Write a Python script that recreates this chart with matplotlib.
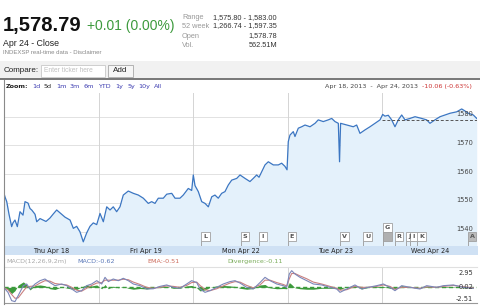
import matplotlib
matplotlib.use("Agg")
import matplotlib.pyplot as plt
from matplotlib.patches import Rectangle
from matplotlib.lines import Line2D

# ---- data ----
# time in trading days since Apr 18 open (0..5)
price_t = [0.0, 0.011, 0.029, 0.053, 0.081, 0.095, 0.116, 0.141, 0.169, 0.201,
           0.222, 0.254, 0.275, 0.293, 0.328, 0.346, 0.381, 0.412, 0.444, 0.486,
           0.518, 0.557, 0.592, 0.645, 0.698, 0.733, 0.768, 0.803, 0.838, 0.874,
           0.909, 0.944, 0.980, 1.015, 1.050, 1.086, 1.121, 1.155, 1.191, 1.226,
           1.261, 1.314, 1.367, 1.420, 1.473, 1.525, 1.561, 1.596, 1.631, 1.684,
           1.720, 1.773, 1.808, 1.860, 1.895, 1.948, 1.984, 2.001, 2.019, 2.054,
           2.090, 2.125, 2.160, 2.196, 2.230, 2.265, 2.301, 2.336, 2.371, 2.407,
           2.460, 2.495, 2.548, 2.600, 2.635, 2.671, 2.696, 2.724, 2.759, 2.794,
           2.847, 2.900, 2.935, 2.970, 2.992, 3.005, 3.023, 3.058, 3.076, 3.111,
           3.147, 3.182, 3.235, 3.288, 3.322, 3.375, 3.428, 3.464, 3.499, 3.534,
           3.547, 3.558, 3.623, 3.692, 3.728, 3.763, 3.816, 3.869, 3.922, 3.975,
           4.003, 4.027, 4.062, 4.098, 4.133, 4.168, 4.204, 4.239, 4.292, 4.345,
           4.415, 4.468, 4.503, 4.556, 4.609, 4.662, 4.715, 4.785, 4.838, 4.873,
           4.908, 4.961, 4.997]
price = [1553.3, 1552.0, 1550.4, 1546.0, 1541.7, 1543.0, 1544.0, 1541.7, 1546.9, 1545.7,
         1550.4, 1549.9, 1548.0, 1547.5, 1546.0, 1543.4, 1544.5, 1544.0, 1543.5, 1544.7,
         1546.0, 1547.5, 1546.5, 1545.0, 1544.0, 1541.1, 1541.8, 1539.9, 1536.4, 1539.5,
         1541.8, 1543.0, 1542.4, 1546.3, 1543.4, 1548.6, 1547.5, 1548.6, 1546.9, 1548.6,
         1552.7, 1554.1, 1553.3, 1552.7, 1551.6, 1549.8, 1550.4, 1549.8, 1551.6, 1551.6,
         1553.0, 1553.3, 1551.6, 1551.6, 1552.7, 1555.0, 1554.3, 1559.7, 1556.0, 1553.9,
         1550.4, 1549.8, 1548.6, 1552.1, 1552.7, 1551.6, 1553.3, 1553.9, 1556.2, 1557.9,
         1558.5, 1559.7, 1558.5, 1557.4, 1558.5, 1559.7, 1558.9, 1560.8, 1563.2, 1564.3,
         1563.2, 1563.2, 1563.8, 1562.7, 1561.5, 1571.3, 1573.6, 1574.8, 1573.1, 1576.0,
         1576.5, 1577.1, 1576.5, 1577.7, 1578.9, 1578.3, 1578.9, 1579.4, 1578.3, 1577.7,
         1564.3, 1577.7, 1577.1, 1576.5, 1577.1, 1574.2, 1575.4, 1576.5, 1577.7, 1578.9,
         1580.8, 1580.2, 1580.5, 1578.9, 1576.5, 1578.9, 1580.6, 1578.9, 1579.4, 1580.0,
         1579.4, 1578.9, 1577.7, 1578.9, 1580.0, 1580.6, 1581.2, 1581.7, 1582.7, 1582.0,
         1581.2, 1580.6, 1579.4]
prev_close = 1578.78

macd_t = [0.011, 0.042, 0.081, 0.116, 0.151, 0.204, 0.240, 0.275, 0.328, 0.381,
          0.433, 0.486, 0.539, 0.610, 0.663, 0.716, 0.768, 0.821, 0.874, 0.927,
          0.980, 1.033, 1.068, 1.103, 1.155, 1.208, 1.261, 1.314, 1.367, 1.438,
          1.508, 1.578, 1.649, 1.720, 1.790, 1.860, 1.931, 1.984, 2.037, 2.072,
          2.125, 2.178, 2.248, 2.318, 2.389, 2.442, 2.495, 2.566, 2.635, 2.706,
          2.759, 2.812, 2.883, 2.952, 2.988, 3.016, 3.041, 3.076, 3.129, 3.200,
          3.270, 3.358, 3.446, 3.517, 3.552, 3.623, 3.710, 3.781, 3.851, 3.940,
          4.010, 4.080, 4.133, 4.204, 4.292, 4.397, 4.468, 4.574, 4.644, 4.750,
          4.856, 4.961]
macd = [-0.35, -1.05, -2.8, -3.0, -1.7, 0.35, 0.7, -0.35, 0.7, 1.4,
        1.75, 1.0, 0.35, 0.7, 0.35, -0.35, -1.05, -0.7, 0.35, 0.7,
        1.4, 0.7, 2.1, 1.2, 1.75, 1.4, 1.9, 1.4, 0.7, 0.35,
        -0.35, -0.3, 0.2, 0.5, 0.0, -0.2, 0.7, 1.4, 1.0, -0.35,
        -1.05, -0.7, 0.0, 0.7, 1.2, 1.4, 0.9, 0.0, -0.35, 1.0,
        2.1, 1.4, 0.7, 0.35, 0.0, 2.8, 3.5, 2.8, 2.1, 1.4,
        0.7, 0.5, 0.0, -0.35, -1.05, -0.35, 0.5, -0.35, 0.0, 0.35,
        0.7, 0.0, -0.7, 0.35, 0.0, -0.35, 0.35, 0.0, 0.35, 0.5,
        0.0, -0.2]
ema = [-0.2, -0.5, -1.5, -2.3, -2.2, -0.8, 0.1, 0.2, 0.3, 0.9,
       1.4, 1.3, 0.8, 0.6, 0.5, 0.0, -0.6, -0.8, -0.2, 0.4,
       0.9, 1.0, 1.5, 1.5, 1.5, 1.5, 1.7, 1.6, 1.1, 0.6,
       0.0, -0.2, 0.0, 0.3, 0.2, 0.0, 0.4, 1.0, 1.1, 0.4,
       -0.5, -0.7, -0.3, 0.3, 0.9, 1.2, 1.1, 0.4, -0.1, 0.5,
       1.5, 1.5, 1.0, 0.6, 0.3, 1.8, 2.9, 2.9, 2.4, 1.8,
       1.1, 0.7, 0.2, -0.2, -0.6, -0.5, 0.2, 0.0, 0.0, 0.2,
       0.5, 0.2, -0.4, 0.0, 0.0, -0.2, 0.1, 0.0, 0.2, 0.4,
       0.1, -0.1]
divergence = [-0.15, -0.55, -1.3, -0.7, 0.5, 1.15, 0.6, -0.55, 0.4, 0.5,
              0.35, -0.3, -0.45, 0.1, -0.15, -0.35, -0.45, 0.1, 0.55, 0.3,
              0.5, -0.3, 0.6, -0.3, 0.25, -0.1, 0.2, -0.2, -0.4, -0.25,
              -0.35, -0.1, 0.2, 0.2, -0.2, -0.2, 0.3, 0.4, -0.1, -0.75,
              -0.55, 0.0, 0.3, 0.4, 0.3, 0.2, -0.2, -0.4, -0.25, 0.5,
              0.6, -0.1, -0.3, -0.25, -0.3, 1.0, 0.6, -0.1, -0.3, -0.4,
              -0.4, -0.2, -0.2, -0.15, -0.45, 0.15, 0.3, -0.35, 0.0, 0.15,
              0.2, -0.2, -0.3, 0.35, 0.0, -0.15, 0.25, 0.0, 0.15, 0.1,
              -0.1, -0.1]

day_labels = ["Thu Apr 18", "Fri Apr 19", "Mon Apr 22", "Tue Apr 23", "Wed Apr 24"]
price_ticks = [1540, 1550, 1560, 1570, 1580]
macd_ticks = [2.95, 0.02, -2.51]

flag_labels = ["L", "S", "I", "E", "V", "U", "G", "R", "J", "I", "K", "A"]
flag_t = [2.130, 2.548, 2.738, 3.044, 3.601, 3.843, 4.054, 4.175, 4.290, 4.334, 4.413, 4.947]
flag_level = [0, 0, 0, 0, 0, 0, 1, 0, 0, 0, 0, 0]

stats_names = ["Range", "52 week", "Open", "Vol."]
stats_values = ["1,575.80 - 1,583.00", "1,266.74 - 1,597.35", "1,578.78", "562.51M"]
zoom_links = ["1d", "5d", "1m", "3m", "6m", "YTD", "1y", "5y", "10y", "All"]

# ---- figure ----
W, H = 480, 306
fig = plt.figure(figsize=(W / 100, H / 100), dpi=100)
fig.patch.set_facecolor("white")


def fx(x):
    return x / W


def fy(y):
    return 1 - y / H


def ftext(x, y, s, **kw):
    kw.setdefault("va", "center")
    kw.setdefault("family", "DejaVu Sans")
    fig.text(fx(x), fy(y), s, **kw)


def frect(x0, y0, x1, y1, **kw):
    fig.add_artist(Rectangle((fx(x0), fy(y1)), fx(x1) - fx(x0), fy(y0) - fy(y1),
                             transform=fig.transFigure, **kw))


def fline(x0, y0, x1, y1, **kw):
    fig.add_artist(Line2D([fx(x0), fx(x1)], [fy(y0), fy(y1)], transform=fig.transFigure, **kw))


# header
ftext(3, 30.5, "1,578.79", va="baseline", family="Liberation Sans", weight="bold", size=14.5, color="#111")
ftext(87, 30, "+0.01 (0.00%)", va="baseline", family="Liberation Sans", size=10, color="#3d9a3d")
ftext(3, 46, "Apr 24 - Close", va="baseline", family="Liberation Sans", size=6.3, color="#222")
ftext(3, 54, "INDEXSP real-time data - Disclaimer", va="baseline", family="Liberation Sans",
      size=4.3, color="#888")
for i, (n, v) in enumerate(zip(stats_names, stats_values)):
    yy = [17.5, 26, 36, 45.5][i]
    ftext(182, yy, n, family="Liberation Sans", size=5.3, color="#999")
    ftext(277, yy, v, ha="right", family="Liberation Sans", size=5.3, color="#333")

# compare bar
frect(0, 61, 480, 77.5, facecolor="#f1f1f1", edgecolor="none")
ftext(4, 70, "Compare:", family="Liberation Sans", size=5.8, color="#222")
frect(41, 65, 105, 76.5, facecolor="white", edgecolor="#c8c8c8", lw=0.6)
ftext(44, 70.5, "Enter ticker here", family="Liberation Sans", size=4.8, color="#c0c0c0")
frect(108, 64.5, 133, 76.5, facecolor="#f6f6f6", edgecolor="#a8a8a8", lw=0.6)
ftext(120.5, 70.5, "Add", ha="center", family="Liberation Sans", size=5.8, color="#222")
frect(0, 77.5, 480, 79.5, facecolor="#7a7a7a", edgecolor="none")

# zoom row
ftext(6, 86.5, "Zoom:", size=4.6, weight="bold", color="#222")
for lab, x in zip(zoom_links, [32, 44, 56, 70, 83, 98, 115, 127, 138, 154]):
    ftext(x, 86.5, lab, size=4.6, color="#222" if lab == "5d" else "#3b3bb0")
ftext(325, 86.5, "Apr 18, 2013  -  Apr 24, 2013", size=4.6, color="#444")
ftext(422, 86.5, "-10.06 (-0.63%)", size=4.6, color="#cc3333")

# ---- main price chart ----
ax = fig.add_axes([fx(4), fy(246), 473 / W, 153 / H])
ax.set_xlim(0, 5)
ax.set_ylim(1534.95, 1588.26)
for s in ax.spines.values():
    s.set_visible(False)
ax.set_xticks([])
ax.set_yticks([])
for p in price_ticks:
    ax.axhline(p, color="#e2e2e2", lw=0.7, zorder=0)
for d in range(1, 5):
    ax.axvline(d, color="#d4d4d4", lw=0.7, zorder=0)
ax.fill_between(price_t, price, 1534.95, color="#e4f1fb", lw=0, zorder=1)
ax.plot(price_t, price, color="#3b76c2", lw=0.9, zorder=3)
ax.plot([4, 5], [prev_close, prev_close], color="#555", lw=0.7, dashes=(3, 2), zorder=4)
for p in price_ticks:
    ax.text(0.992, p + 0.9, str(p), transform=ax.get_yaxis_transform(), ha="right", va="center",
            size=4.8, color="#444", family="DejaVu Sans", zorder=6)

# event flags
fw, fh = 8.5 / 94.6, 3.1
for lab, t, lev in zip(flag_labels, flag_t, flag_level):
    y0 = 1536.7 + lev * fh
    x0 = t - fw / 2
    ax.plot([x0, x0], [1534.95, y0], color="#999", lw=0.6, zorder=4)
    face = "#bbbbbb" if lab == "A" else "white"
    ax.add_patch(Rectangle((x0, y0), fw, fh, facecolor=face, edgecolor="#a0a0a0", lw=0.6, zorder=5))
    if lev:
        ax.add_patch(Rectangle((x0, 1536.7), fw, fh, facecolor="#b0b0b0", edgecolor="#a0a0a0",
                               lw=0.6, zorder=5))
    ax.text(t, y0 + fh / 2, lab, ha="center", va="center", size=4.6, weight="bold",
            color="#555", family="DejaVu Sans", zorder=6)

# date band
frect(4, 246, 478, 255, facecolor="#cfe1f4", edgecolor="none")
for i, lab in enumerate(day_labels):
    ftext(4 + 94.6 * (i + 0.5), 250.8, lab, ha="center", size=4.7, color="#222")

# ---- MACD panel ----
ftext(6, 261.5, "MACD(12,26,9,2m)", size=4.6, color="#aaaaaa")
ftext(77, 261.5, "MACD:-0.62", size=4.6, color="#5a78b8")
ftext(147, 261.5, "EMA:-0.51", size=4.6, color="#cc6a5a")
ftext(227, 261.5, "Divergence:-0.11", size=4.6, color="#7aac5a")

mx = fig.add_axes([fx(4), fy(303), 473 / W, 36 / H])
mx.set_xlim(0, 5)
mx.set_ylim(-3.29, 4.27)
for s in mx.spines.values():
    s.set_visible(False)
mx.spines["bottom"].set_visible(True)
mx.spines["bottom"].set_color("#999")
mx.spines["top"].set_visible(True)
mx.spines["top"].set_color("#e0e0e0")
mx.set_xticks([])
mx.set_yticks([])
for d in range(1, 5):
    mx.axvline(d, color="#d4d4d4", lw=0.7, zorder=0)
mx.axhline(0, color="#3c9a3c", lw=1.0, dashes=(3, 2), zorder=1)
mx.fill_between(macd_t, 0, divergence, color="#3c9a3c", lw=0, zorder=2)
mx.plot(macd_t, ema, color="#c98080", lw=0.8, zorder=3)
mx.plot(macd_t, macd, color="#7b86b8", lw=0.8, zorder=4)
for v in macd_ticks:
    mx.text(0.992, v, f"{v:.2f}", transform=mx.get_yaxis_transform(), ha="right", va="center",
            size=4.8, color="#333", family="DejaVu Sans", zorder=6)

# left frame line
fline(3.5, 79.5, 3.5, 304, color="#8a8a8a", lw=0.8)

fig.savefig("out.png", dpi=100)
